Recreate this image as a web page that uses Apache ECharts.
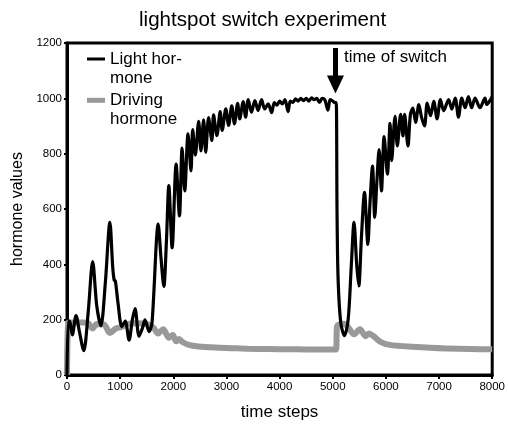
<!DOCTYPE html>
<html>
<head>
<meta charset="utf-8">
<script src="https://cdn.jsdelivr.net/npm/echarts@6/dist/echarts.min.js"></script>
<style>html,body{margin:0;padding:0;background:#fff;}#c{width:508px;height:426px;}</style>
</head>
<body>
<div id="c"></div>
<script>
// Light hormone (time steps / values)
const lightT = [0,25,50,100,170,230,315,400,483,560,638,720,807,860,888,910,960,1031,1095,1168,1230,1280,1355,1420,1467,1545,1600,1716,1770,1822,1870,1916,1978,2053,2116,2165,2215,2277,2333,2365,2415,2477,2520,2570,2610,2663,2725,2757,2820,2882,2920,2988,3040,3100,3150,3210,3250,3315,3360,3410,3470,3535,3595,3660,3720,3785,3850,3900,3950,4000,4050,4100,4160,4200,4250,4300,4350,4400,4450,4500,4550,4600,4650,4700,4750,4800,4850,4910,4950,5000,5040,5065,5080,5100,5150,5220,5290,5350,5400,5450,5490,5540,5597,5660,5700,5748,5790,5830,5872,5916,5966,6028,6078,6108,6172,6215,6277,6321,6352,6415,6460,6508,6558,6620,6670,6726,6777,6840,6900,6963,7025,7087,7180,7240,7303,7365,7427,7490,7552,7614,7677,7770,7864,7895,7950,8000];
const lightV = [0,195,195,145,215,160,88,230,410,250,178,330,552,390,343,340,260,175,195,126,200,240,140,170,199,157,190,545,420,320,480,685,460,762,575,820,665,872,738,887,795,917,810,922,805,930,847,940,865,952,884,962,902,973,908,982,926,988,932,995,950,992,956,995,962,980,948,985,975,990,980,995,952,990,985,998,990,1000,992,1000,990,1002,995,1000,985,1000,995,957,995,990,985,985,600,350,190,142,200,400,552,400,322,500,660,472,620,755,570,700,815,665,862,726,910,775,935,828,942,864,942,828,940,965,913,977,932,900,983,937,989,926,995,955,995,961,1001,932,1001,966,1006,966,1001,966,1001,978,990,1006];

// Driving hormone
const driveT = [0,20,50,150,300,400,483,560,700,807,920,1040,1100,1200,1300,1450,1560,1635,1716,1810,1916,1990,2053,2110,2165,2290,2477,2790,3100,3400,3800,4200,4600,5060,5080,5120,5215,5300,5400,5510,5620,5680,5770,5890,6070,6500,7130,7970,8000];
const driveV = [0,188,190,189,190,187,168,184,182,152,168,174,183,186,187,186,180,169,150,165,135,145,122,130,120,109,103,99,97,95,94,93,92,92,175,182,185,170,147,165,140,150,140,121,109,102,96,93,93];

const xTicks = {min: 0, max: 8000, interval: 1000};
const yTicks = {min: 0, max: 1200, interval: 200};

const zip = (t, v) => t.map((x, i) => [x, v[i]]);
const FONT = 'Liberation Sans, Arial, sans-serif';

const chart = echarts.init(document.getElementById('c'), null, {renderer: 'canvas'});
chart.setOption({
  animation: false,
  backgroundColor: '#fff',
  textStyle: {fontFamily: FONT, color: '#000'},
  title: {
    text: 'lightspot switch experiment',
    left: 139, top: 10, padding: 0,
    textStyle: {fontFamily: FONT, fontSize: 20.6, fontWeight: 'normal', color: '#000'}
  },
  legend: [
    {
      data: [{name: 'Light hormone', icon: 'rect'}],
      left: 87, top: 30.5, padding: 0, itemWidth: 18, itemHeight: 3, itemGap: 0,
      selectedMode: false,
      formatter: () => ' \nLight hor-\nmone',
      textStyle: {fontFamily: FONT, fontSize: 17, lineHeight: 19, color: '#000'}
    },
    {
      data: [{name: 'Driving hormone', icon: 'rect'}],
      left: 87, top: 71.8, padding: 0, itemWidth: 18, itemHeight: 5, itemGap: 0,
      selectedMode: false,
      formatter: () => ' \nDriving\nhormone',
      textStyle: {fontFamily: FONT, fontSize: 17, lineHeight: 19, color: '#000'}
    }
  ],
  grid: {left: 67, right: 13, top: 43, bottom: 51, show: true, borderColor: '#000', borderWidth: 3, backgroundColor: 'transparent'},
  xAxis: {
    type: 'value', min: xTicks.min, max: xTicks.max, interval: xTicks.interval,
    name: 'time steps', nameLocation: 'middle', nameGap: 29,
    nameTextStyle: {fontFamily: FONT, fontSize: 17, color: '#000'},
    axisLine: {lineStyle: {color: '#000', width: 3}},
    axisTick: {show: true, length: 4, lineStyle: {color: '#000', width: 2}},
    axisLabel: {fontFamily: FONT, fontSize: 11.5, color: '#000', margin: 6, formatter: v => String(v)},
    splitLine: {show: false}
  },
  yAxis: {
    type: 'value', min: yTicks.min, max: yTicks.max, interval: yTicks.interval,
    name: 'hormone values', nameLocation: 'middle', nameGap: 40,
    nameTextStyle: {fontFamily: FONT, fontSize: 16, color: '#000'},
    axisLine: {show: true, lineStyle: {color: '#000', width: 3}},
    axisTick: {show: true, length: 3, lineStyle: {color: '#000', width: 2}},
    axisLabel: {fontFamily: FONT, fontSize: 11.5, color: '#000', margin: 5, formatter: v => String(v)},
    splitLine: {show: false}
  },
  series: [
    {
      name: 'Driving hormone', type: 'line', data: zip(driveT, driveV),
      showSymbol: false, symbol: 'none', smooth: 0.3,
      lineStyle: {color: '#999999', width: 6}, itemStyle: {color: '#999999'}, z: 2
    },
    {
      name: 'Light hormone', type: 'line', data: zip(lightT, lightV),
      showSymbol: false, symbol: 'none', smooth: 0.3,
      lineStyle: {color: '#000', width: 3.2}, itemStyle: {color: '#000'}, z: 3,
      markLine: {
        silent: true, symbol: ['none', 'triangle'], symbolSize: [17, 18],
        lineStyle: {color: '#000', width: 5, type: 'solid'},
        label: {show: false},
        data: [[{coord: [5051, 1182]}, {coord: [5051, 1050]}]]
      },
      markPoint: {
        silent: true, symbol: 'circle', symbolSize: 0,
        label: {show: true, position: 'right', distance: 0, formatter: 'time of switch',
          fontFamily: FONT, fontSize: 17, color: '#000'},
        data: [{coord: [5210, 1149]}]
      }
    }
  ]
});
</script>
</body>
</html>
